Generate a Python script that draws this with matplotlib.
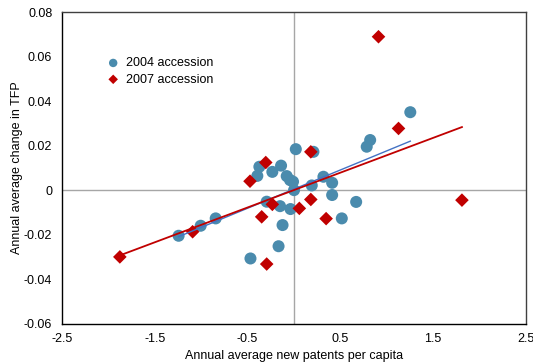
import numpy as np
import matplotlib
matplotlib.use("Agg")
import matplotlib.pyplot as plt

plt.rcParams['font.family'] = ['Liberation Sans', 'DejaVu Sans']

# 2004 accession (blue circles)
x2004 = [1.257, 0.824, 0.787, 0.022, 0.212, -0.371, -0.393, -0.231, -0.137, -0.076,
         -0.040, -0.008, 0.003, 0.194, 0.320, 0.414, 0.414, 0.673, 0.518, -0.292,
         -0.148, -0.035, -0.121, -0.164, -0.467, -0.842, -1.004, -1.242]
y2004 = [0.0350, 0.0225, 0.0195, 0.0184, 0.0172, 0.0105, 0.0064, 0.0082, 0.0110, 0.0063,
         0.0045, 0.0038, 0.0000, 0.0021, 0.0060, 0.0033, -0.0022, -0.0053, -0.0127, -0.0052,
         -0.0072, -0.0085, -0.0157, -0.0252, -0.0307, -0.0127, -0.0160, -0.0205]

# 2007 accession (red diamonds)
x2007 = [0.914, 1.130, 0.184, -0.302, -0.472, -0.231, -0.346, 0.060, 0.184, 0.349,
         -0.292, -1.876, -1.091, 1.814]
y2007 = [0.0689, 0.0277, 0.0172, 0.0124, 0.0040, -0.0064, -0.0120, -0.0082, -0.0042, -0.0128,
         -0.0332, -0.0300, -0.0187, -0.0045]

xticks = [-2.5, -1.5, -0.5, 0.5, 1.5, 2.5]
yticks = [-0.06, -0.04, -0.02, 0, 0.02, 0.04, 0.06, 0.08]
ytick_labels = ['-0.06', '-0.04', '-0.02', '0', '0.02', '0.04', '0.06', '0.08']

blue = '#4A8BAD'
red = '#C00000'

fig = plt.figure(figsize=(5.33, 3.64), dpi=100)
ax = fig.add_axes([0.1163, 0.1107, 0.8697, 0.8563])

ax.axhline(0, color='#A6A6A6', lw=1.0, zorder=1)
ax.axvline(0, color='#A6A6A6', lw=1.0, zorder=1)

ax.scatter(x2004, y2004, s=75, marker='o', color=blue, edgecolors='none', zorder=3,
           label='2004 accession')
ax.scatter(x2007, y2007, s=48, marker='D', color=red, edgecolors='none', zorder=4,
           label='2007 accession')

# OLS trend lines
xb = np.array(x2004); yb = np.array(y2004)
pb = np.polyfit(xb, yb, 1)
xx = np.array([xb.min(), xb.max()])
ax.plot(xx, np.polyval(pb, xx), color='#4472C4', lw=1.0, zorder=5)

xr = np.array(x2007); yr = np.array(y2007)
pr = np.polyfit(xr, yr, 1)
xx = np.array([xr.min(), xr.max()])
ax.plot(xx, np.polyval(pr, xx), color=red, lw=1.3, zorder=5)

ax.set_xlim(-2.5, 2.5)
ax.set_ylim(-0.06, 0.08)
ax.set_xticks(xticks)
ax.set_xticklabels([str(t) for t in xticks])
ax.set_yticks(yticks)
ax.set_yticklabels(ytick_labels)
ax.tick_params(length=0, labelsize=9, pad=7)

for s in ['left', 'bottom']:
    ax.spines[s].set_color('black')
    ax.spines[s].set_linewidth(1.0)
for s in ['top', 'right']:
    ax.spines[s].set_color('#404040')
    ax.spines[s].set_linewidth(1.0)

ax.set_xlabel('Annual average new patents per capita', fontsize=9, labelpad=3)
ax.set_ylabel('Annual average change in TFP', fontsize=9, labelpad=1)

ax.legend(loc='upper left', bbox_to_anchor=(0.07, 0.875), frameon=False, fontsize=9,
          handletextpad=0.05, labelspacing=0.35, markerscale=0.7, borderpad=0)

fig.savefig('out.png', dpi=100)
